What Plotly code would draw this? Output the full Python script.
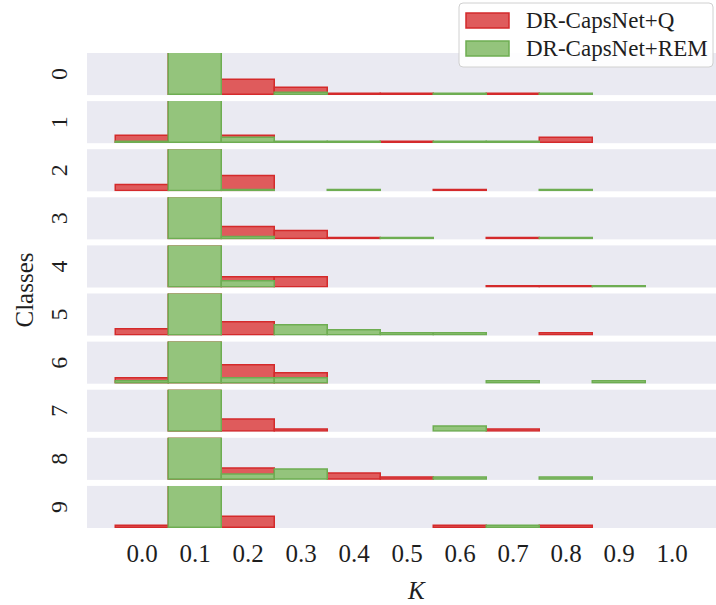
import plotly.graph_objects as go
from plotly.subplots import make_subplots

# Bin centres of the K histogram (bin width 0.1)
k_bins = [0.0, 0.1, 0.2, 0.3, 0.4, 0.5, 0.6, 0.7, 0.8, 0.9]
classes = ["0", "1", "2", "3", "4", "5", "6", "7", "8", "9"]
x_ticks = [0.0, 0.1, 0.2, 0.3, 0.4, 0.5, 0.6, 0.7, 0.8, 0.9, 1.0]

# Relative frequency per class (row) and bin, DR-CapsNet+Q
q_0 = [0, 1.0, 0.36, 0.18, 0.03, 0.03, 0, 0.03, 0, 0]
q_1 = [0.18, 1.0, 0.18, 0, 0, 0.03, 0, 0, 0.13, 0]
q_2 = [0.15, 1.0, 0.35, 0, 0, 0, 0.03, 0, 0, 0]
q_3 = [0, 1.0, 0.29, 0.20, 0.03, 0, 0, 0.03, 0, 0]
q_4 = [0, 1.0, 0.24, 0.23, 0, 0, 0, 0.03, 0.03, 0]
q_5 = [0.14, 1.0, 0.31, 0, 0, 0, 0, 0, 0.04, 0]
q_6 = [0.13, 1.0, 0.42, 0.25, 0, 0, 0, 0, 0, 0]
q_7 = [0, 1.0, 0.28, 0.04, 0, 0, 0, 0.04, 0, 0]
q_8 = [0, 1.0, 0.26, 0, 0.14, 0.04, 0, 0, 0, 0]
q_9 = [0.04, 1.0, 0.27, 0, 0, 0, 0.04, 0, 0.04, 0]

# Relative frequency per class (row) and bin, DR-CapsNet+REM
rem_0 = [0, 1.0, 0, 0.05, 0, 0, 0.03, 0, 0.03, 0]
rem_1 = [0.03, 1.0, 0.13, 0.03, 0.03, 0, 0.03, 0.03, 0, 0]
rem_2 = [0, 1.0, 0.03, 0, 0.03, 0, 0, 0, 0.03, 0]
rem_3 = [0, 1.0, 0.05, 0, 0, 0.03, 0, 0, 0.03, 0]
rem_4 = [0, 1.0, 0.14, 0, 0, 0, 0, 0, 0, 0.03]
rem_5 = [0, 1.0, 0, 0.23, 0.13, 0.04, 0.04, 0, 0, 0]
rem_6 = [0.05, 1.0, 0.13, 0.13, 0, 0, 0, 0.04, 0, 0.04]
rem_7 = [0, 1.0, 0, 0, 0, 0, 0.13, 0, 0, 0]
rem_8 = [0, 1.0, 0.11, 0.23, 0, 0, 0.04, 0, 0.04, 0]
rem_9 = [0, 1.0, 0, 0, 0, 0, 0, 0.04, 0, 0]

q_rows = [q_0, q_1, q_2, q_3, q_4, q_5, q_6, q_7, q_8, q_9]
rem_rows = [rem_0, rem_1, rem_2, rem_3, rem_4, rem_5, rem_6, rem_7, rem_8, rem_9]

series_names = ["DR-CapsNet+Q", "DR-CapsNet+REM"]
RED_FILL, RED_EDGE = "#DF5B5C", "#D42A2B"
GREEN_FILL, GREEN_EDGE = "#94C47C", "#6EAD52"
BG = "#EAEAF2"
FONT = "Liberation Serif"
TXT = "#1e1e1e"

W, H = 716, 605
L, R, T, B = 87, 0, 53, 77
n = len(classes)
gap_px = 6.0
plot_h = H - T - B

fig = make_subplots(rows=n, cols=1, shared_xaxes=True,
                    vertical_spacing=gap_px / plot_h)


def nz(vals):
    return [v if v > 0 else None for v in vals]


for i in range(n):
    fig.add_trace(go.Bar(x=k_bins, y=nz(q_rows[i]), width=0.1,
                         marker=dict(color=RED_FILL,
                                     line=dict(color=RED_EDGE, width=1.5)),
                         name=series_names[0], showlegend=False),
                  row=i + 1, col=1)
    fig.add_trace(go.Bar(x=k_bins, y=nz(rem_rows[i]), width=0.1,
                         marker=dict(color=GREEN_FILL,
                                     line=dict(color=GREEN_EDGE, width=1.5)),
                         name=series_names[1], showlegend=False),
                  row=i + 1, col=1)

fig.update_xaxes(range=[-0.104, 1.083], showgrid=False, zeroline=False,
                 ticks="", tickvals=x_ticks, tickformat=".1f",
                 showline=False)
fig.update_xaxes(tickfont=dict(family=FONT, size=25, color=TXT),
                 ticklabelstandoff=8, row=n, col=1)
fig.update_yaxes(range=[0, 1.0], showgrid=False, zeroline=False,
                 showticklabels=False, ticks="", showline=False)

annotations = []
# Class labels beside each row
for i in range(n):
    yax = fig.layout["yaxis" if i == 0 else f"yaxis{i + 1}"]
    d0, d1 = yax.domain
    annotations.append(dict(text=classes[i], xref="paper", yref="paper",
                            x=(59 - L) / (W - L), y=(d0 + d1) / 2,
                            xanchor="center", yanchor="middle",
                            textangle=-90, showarrow=False,
                            font=dict(family=FONT, size=24, color=TXT)))

annotations.append(dict(text="Classes", xref="paper", yref="paper",
                        x=(24 - L) / (W - L), y=0.5, textangle=-90,
                        xanchor="center", yanchor="middle", showarrow=False,
                        font=dict(family=FONT, size=25, color=TXT)))
annotations.append(dict(text="<i>K</i>", xref="paper", yref="paper",
                        x=(416 - L) / (W - L), y=-(590 - (H - B)) / plot_h,
                        xanchor="center", yanchor="middle", showarrow=False,
                        font=dict(family=FONT, size=25, color=TXT)))


def px_x(px):
    return (px - L) / (W - L)


def px_y(py):
    return (H - B - py) / plot_h


# Legend box drawn in pixel-based paper coordinates
shapes = []
bx0, bx1, by0, by1, rad = 459, 713, 3, 67, 4
path = (f"M {px_x(bx0 + rad)},{px_y(by0)} L {px_x(bx1 - rad)},{px_y(by0)} "
        f"Q {px_x(bx1)},{px_y(by0)} {px_x(bx1)},{px_y(by0 + rad)} "
        f"L {px_x(bx1)},{px_y(by1 - rad)} "
        f"Q {px_x(bx1)},{px_y(by1)} {px_x(bx1 - rad)},{px_y(by1)} "
        f"L {px_x(bx0 + rad)},{px_y(by1)} "
        f"Q {px_x(bx0)},{px_y(by1)} {px_x(bx0)},{px_y(by1 - rad)} "
        f"L {px_x(bx0)},{px_y(by0 + rad)} "
        f"Q {px_x(bx0)},{px_y(by0)} {px_x(bx0 + rad)},{px_y(by0)} Z")
shapes.append(dict(type="path", path=path, xref="paper", yref="paper",
                   fillcolor="rgba(255,255,255,0.9)",
                   line=dict(color="#D0D0D0", width=1)))

legend_items = [(series_names[0], RED_FILL, RED_EDGE, 20.5),
                (series_names[1], GREEN_FILL, GREEN_EDGE, 48.5)]
for name, fill, edge, cy in legend_items:
    shapes.append(dict(type="rect", xref="paper", yref="paper",
                       x0=px_x(466), x1=px_x(509),
                       y0=px_y(cy - 7.5), y1=px_y(cy + 7.5),
                       fillcolor=fill, line=dict(color=edge, width=1.5)))
    annotations.append(dict(text=name, xref="paper", yref="paper",
                            x=px_x(524), y=px_y(cy), xanchor="left",
                            yanchor="middle", showarrow=False,
                            font=dict(family=FONT, size=23, color=TXT)))

fig.update_layout(width=W, height=H,
                  margin=dict(l=L, r=R, t=T, b=B, pad=0),
                  paper_bgcolor="white", plot_bgcolor=BG,
                  barmode="overlay", bargap=0, showlegend=False,
                  font=dict(family=FONT, color=TXT),
                  annotations=annotations, shapes=shapes)

fig.write_html("out.html")
